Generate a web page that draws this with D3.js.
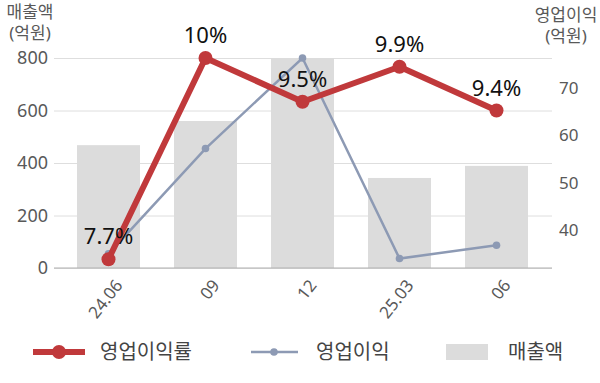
<!DOCTYPE html>
<html>
<head>
<meta charset="utf-8">
<script src="https://cdn.jsdelivr.net/npm/d3@7"></script>
<style>
  body { margin: 0; background: #fff; }
  text { font-family: "Noto Sans", "Noto Sans CJK KR", sans-serif; }
</style>
</head>
<body>
<div id="chart"></div>
<script>
// data
var periods = ['24.06', '09', '12', '25.03', '06'];
var sales = [468, 560, 800, 343, 389];          // 매출액 (억원)
var profit = [35, 57.2, 76.3, 34, 36.8];       // 영업이익 (억원)
var margin_pct = [7.7, 10, 9.5, 9.9, 9.4];     // 영업이익률 (%)
var margin_labels = ['7.7%', '10%', '9.5%', '9.9%', '9.4%'];
var sales_ticks = [0, 200, 400, 600, 800];
var profit_ticks = [40, 50, 60, 70];

var width = 600, height = 383
  , plotL = 60, plotR = 545, plotT = 58, plotB = 268
  , red = '#c0393b', slate = '#8d9ab4', barFill = '#dcdcdc'
  , tickColor = '#595959';

var svg = d3.select('#chart').append('svg')
    .attr('width', width)
    .attr('height', height);

var x = d3.scaleBand()
    .domain(periods)
    .range([plotL, plotR])
    .paddingInner(0.35)
    .paddingOuter(0.175);

var y_sales = d3.scaleLinear().domain([0, 800]).range([plotB, plotT]);
var y_profit = d3.scaleLinear().domain([32, 76.3]).range([plotB, plotT]);
var y_margin = d3.scaleLinear().domain([7.6, 10]).range([plotB, plotT]);

var cx = (d, i) => x(periods[i]) + x.bandwidth() / 2;

// grid + left axis
var ax_left = svg.append('g')
    .attr('transform', 'translate(54,0)')
    .call(d3.axisLeft(y_sales).tickValues(sales_ticks).tickSize(-498).tickPadding(6));
ax_left.select('.domain').remove();
ax_left.selectAll('line').attr('stroke', '#dedede');
ax_left.selectAll('text')
    .attr('fill', tickColor)
    .style('font-size', '18px');

// right axis
var ax_right = svg.append('g')
    .attr('transform', 'translate(553,0)')
    .call(d3.axisRight(y_profit).tickValues(profit_ticks).tickSize(0).tickPadding(6));
ax_right.select('.domain').remove();
ax_right.selectAll('text')
    .attr('fill', tickColor)
    .style('font-size', '17px');

// bars
svg.append('g').selectAll('rect')
    .data(sales)
  .enter().append('rect')
    .attr('x', (d, i) => x(periods[i]))
    .attr('y', d => y_sales(d))
    .attr('width', x.bandwidth())
    .attr('height', d => y_sales(0) - y_sales(d))
    .attr('fill', barFill);

// baseline
svg.append('line')
    .attr('x1', 54).attr('x2', 552)
    .attr('y1', y_sales(0)).attr('y2', y_sales(0))
    .attr('stroke', '#b0b0b0')
    .attr('stroke-width', 1.2);

// x labels
var ax_x = svg.append('g')
    .attr('transform', 'translate(0,' + plotB + ')')
    .call(d3.axisBottom(x).tickSize(0));
ax_x.select('.domain').remove();
ax_x.selectAll('text')
    .attr('fill', tickColor)
    .style('font-size', '17px')
    .attr('text-anchor', 'end')
    .attr('dy', '0.35em')
    .attr('transform', 'translate(8,12) rotate(-52)');

// profit line
svg.append('path')
    .datum(profit)
    .attr('fill', 'none')
    .attr('stroke', slate)
    .attr('stroke-width', 2.5)
    .attr('d', d3.line().x(cx).y(d => y_profit(d)));

svg.append('g').selectAll('circle')
    .data(profit)
  .enter().append('circle')
    .attr('cx', cx)
    .attr('cy', d => y_profit(d))
    .attr('r', 3.8)
    .attr('fill', slate);

// margin line
svg.append('path')
    .datum(margin_pct)
    .attr('fill', 'none')
    .attr('stroke', red)
    .attr('stroke-width', 6)
    .attr('stroke-linejoin', 'round')
    .attr('d', d3.line().x(cx).y(d => y_margin(d)));

svg.append('g').selectAll('circle')
    .data(margin_pct)
  .enter().append('circle')
    .attr('cx', cx)
    .attr('cy', d => y_margin(d))
    .attr('r', 7)
    .attr('fill', red);

svg.append('g').selectAll('text')
    .data(margin_pct)
  .enter().append('text')
    .attr('x', cx)
    .attr('y', d => y_margin(d) - 15)
    .attr('text-anchor', 'middle')
    .attr('fill', '#111')
    .style('font-size', '22px')
    .text((d, i) => margin_labels[i]);

// axis titles
function title (xpos, y0, lines) {
  var t = svg.append('text')
      .attr('text-anchor', 'middle')
      .attr('fill', tickColor)
      .style('font-size', '17px');
  lines.forEach(function (l, i) {
    t.append('tspan').attr('x', xpos).attr('y', y0 + i * 21).text(l);
  });
}
title(30, 18, ['매출액', '(억원)']);
title(566, 21, ['영업이익', '(억원)']);

// legend
var lg = svg.append('g').attr('transform', 'translate(0,352)');
lg.append('line').attr('x1', 33).attr('x2', 85).attr('stroke', red).attr('stroke-width', 6);
lg.append('circle').attr('cx', 59).attr('r', 7).attr('fill', red);
lg.append('text').attr('x', 100).attr('dy', '0.35em').text('영업이익률');
lg.append('line').attr('x1', 251).attr('x2', 298).attr('stroke', slate).attr('stroke-width', 2.5);
lg.append('circle').attr('cx', 274).attr('r', 3.8).attr('fill', slate);
lg.append('text').attr('x', 316).attr('dy', '0.35em').text('영업이익');
lg.append('rect').attr('x', 446).attr('y', -8).attr('width', 42).attr('height', 16).attr('fill', barFill);
lg.append('text').attr('x', 508).attr('dy', '0.35em').text('매출액');
lg.selectAll('text')
    .attr('fill', '#444')
    .style('font-size', '20px');
</script>
</body>
</html>
